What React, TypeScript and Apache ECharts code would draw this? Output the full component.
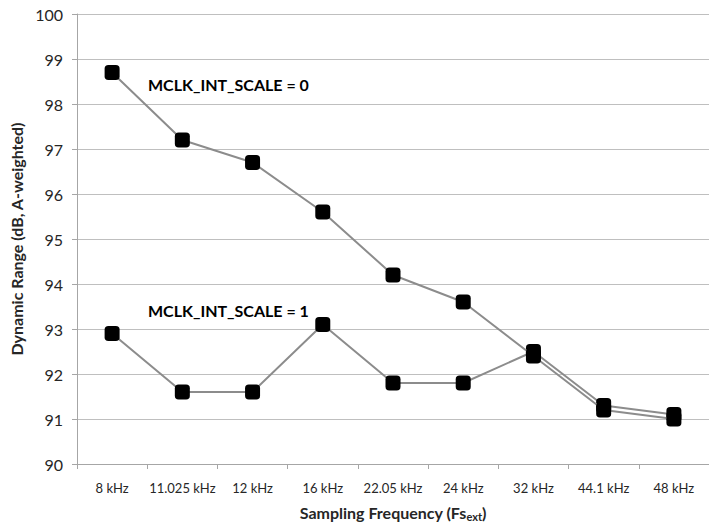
import React, { useEffect, useRef } from "react";
import * as echarts from "echarts";

const categories = ["8 kHz", "11.025 kHz", "12 kHz", "16 kHz", "22.05 kHz", "24 kHz", "32 kHz", "44.1 kHz", "48 kHz"];
const scale0 = [98.7, 97.2, 96.7, 95.6, 94.2, 93.6, 92.4, 91.2, 91.0];
const scale1 = [92.9, 91.6, 91.6, 93.1, 91.8, 91.8, 92.5, 91.3, 91.1];
const yTicks = { min: 90, max: 100, interval: 1 };
const labels = ["MCLK_INT_SCALE = 0", "MCLK_INT_SCALE = 1"];

const FONT = "Lato, 'Open Sans', sans-serif";

export default function App() {
  const ref = useRef<HTMLDivElement>(null);
  useEffect(() => {
    if (!ref.current) return;
    const chart = echarts.init(ref.current, null, { renderer: "svg" });
    const seriesStyle = {
      type: "line" as const,
      symbol: "roundRect",
      symbolSize: 15,
      itemStyle: { color: "#000000" },
      lineStyle: { color: "#8c8c8c", width: 2 },
    };
    chart.setOption({
      animation: false,
      textStyle: { fontFamily: FONT },
      grid: { left: 77, right: 0, top: 14, bottom: 59, containLabel: false },
      xAxis: {
        type: "category",
        data: categories,
        boundaryGap: true,
        axisLine: { lineStyle: { color: "#a6a6a6", width: 1 } },
        axisTick: { show: true, length: 5, lineStyle: { color: "#a6a6a6" } },
        axisLabel: { color: "#262626", fontSize: 13, margin: 17, interval: 0, fontFamily: FONT },
        name: "{a|Sampling Frequency (Fs}{s|ext}{a|)}",
        nameLocation: "middle",
        nameGap: 38,
        nameTextStyle: {
          rich: {
            a: { fontSize: 16, fontWeight: "bold", color: "#262626", fontFamily: FONT },
            s: { fontSize: 11, fontWeight: "bold", color: "#262626", fontFamily: FONT, verticalAlign: "bottom", padding: [9, 0, 0, 0] },
          },
        },
      },
      yAxis: {
        type: "value",
        min: yTicks.min,
        max: yTicks.max,
        interval: yTicks.interval,
        axisLine: { show: true, lineStyle: { color: "#a6a6a6", width: 1 } },
        axisTick: { show: true, length: 5, lineStyle: { color: "#a6a6a6" } },
        axisLabel: { color: "#262626", fontSize: 16, margin: 14, fontFamily: FONT },
        splitLine: { show: true, lineStyle: { color: "#bfbfbf", width: 1 } },
        name: "Dynamic Range (dB, A-weighted)",
        nameLocation: "middle",
        nameGap: 50,
        nameTextStyle: { fontSize: 16, fontWeight: "bold", color: "#262626", fontFamily: FONT },
      },
      series: [
        { ...seriesStyle, name: labels[0], data: scale0, z: 3 },
        { ...seriesStyle, name: labels[1], data: scale1, z: 2 },
      ],
      graphic: [
        {
          type: "text",
          left: 148,
          top: 76,
          style: { text: labels[0], font: `bold 16px ${FONT}`, fill: "#000000" },
        },
        {
          type: "text",
          left: 148,
          top: 302,
          style: { text: labels[1], font: `bold 16px ${FONT}`, fill: "#000000" },
        },
      ],
    });
    return () => chart.dispose();
  }, []);
  return (
    <div
      ref={ref}
      style={{ position: "fixed", left: 0, top: 0, width: 709, height: 527, background: "#ffffff" }}
    />
  );
}
